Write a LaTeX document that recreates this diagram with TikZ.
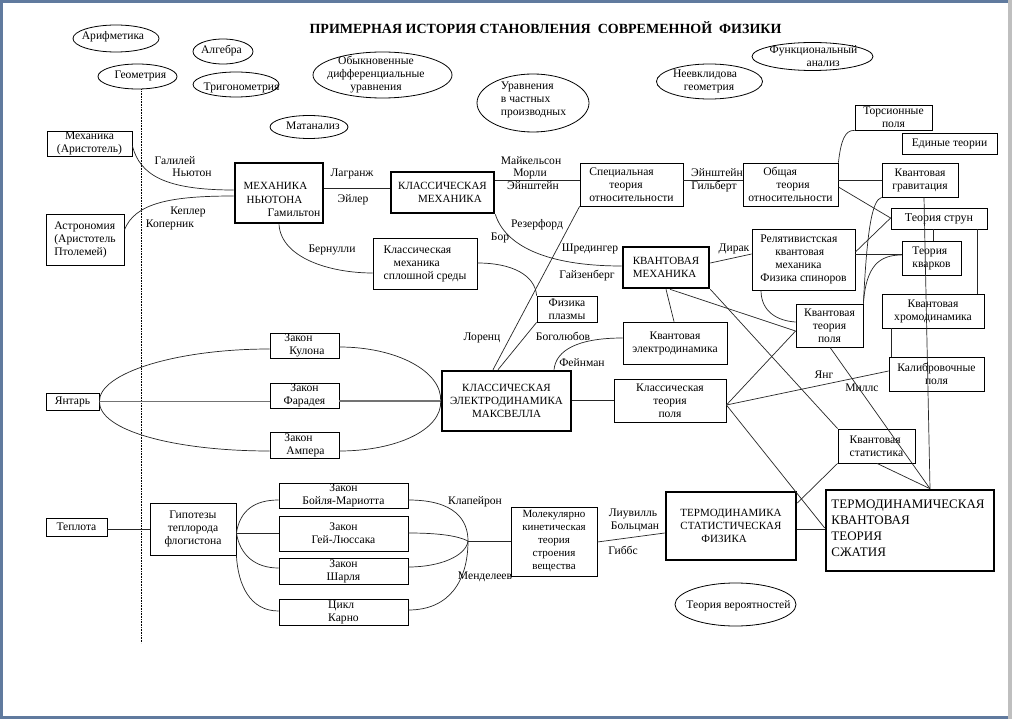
\documentclass[tikz,border=0pt]{standalone}
\usepackage{fontspec}
\setmainfont{Liberation Serif}
\usetikzlibrary{shapes.geometric}
\definecolor{framecol}{RGB}{96,122,158}
\newcommand\smf{\fontsize{11.6}{13}\selectfont}
\newcommand\mkf{\fontsize{11}{13}\selectfont}
\newcommand\bgf{\fontsize{11}{13.2}\selectfont}
\newcommand\tqf{\fontsize{13}{16}\selectfont}
\begin{document}
\begin{tikzpicture}[x=1pt,y=-1pt,
  box/.style={draw=black, line width=0.8pt, rectangle, inner sep=0.5pt, align=center, font=\smf},
  tbox/.style={box, line width=2.6pt, font=\bgf},
  ellsh/.style={draw=black, line width=0.8pt, ellipse, inner sep=0pt},
  txt/.style={inner sep=0pt, align=center, font=\smf},
  lbl/.style={inner sep=0pt, font=\smf, text height=8pt, text depth=2.5pt},
  con/.style={line width=0.7pt, draw=black!85},
  gcon/.style={line width=1.4pt, draw=black!55},
]
\useasboundingbox (0,0) rectangle (1012,719);
\fill[framecol] (0,0) rectangle (1012,719);
\fill[black!25] (1008,0) rectangle (1012,719);
\fill[white] (3,3) rectangle (1008,716);

% title
\node[inner sep=0pt, font=\bfseries\fontsize{14}{16}\selectfont] (title) at (545.5,28) {ПРИМЕРНАЯ ИСТОРИЯ СТАНОВЛЕНИЯ\ \ СОВРЕМЕННОЙ\ \ ФИЗИКИ};

% ellipses
\node[ellsh, minimum width=86, minimum height=27] (arif) at (116,38.5) {};
\node[txt] (arifT) at (113,37) {Арифметика};
\node[ellsh, minimum width=79, minimum height=25] (geom) at (137.5,76.5) {};
\node[txt] (geomT) at (140.5,75.5) {Геометрия};
\node[ellsh, minimum width=60, minimum height=25] (alg) at (223,51.5) {};
\node[txt] (algT) at (221.5,50.5) {Алгебра};
\node[ellsh, minimum width=86, minimum height=25] (trig) at (236,84.5) {};
\node[txt] (trigT) at (241.5,87.5) {Тригонометрия};
\node[ellsh, minimum width=78, minimum height=23] (matan) at (309,127) {};
\node[txt] (matanT) at (313,125.5) {Матанализ};
\node[ellsh, minimum width=139, minimum height=46] (ode) at (382.5,75) {};
\node[txt] (odeT) at (376,75) {Обыкновенные\\дифференциальные\\уравнения};
\node[ellsh, minimum width=112, minimum height=58] (pde) at (533,103) {};
\node[txt, align=left] (pdeT) at (533.5,100) {Уравнения\\в частных\\производных};
\node[ellsh, minimum width=106, minimum height=35] (neevkl) at (709.5,81.5) {};
\node[txt] (neevklT) at (705,81) {Неевклидова\\\hspace*{8pt}геометрия};
\node[ellsh, minimum width=121, minimum height=28] (func) at (812.5,56.5) {};
\node[txt, align=left] (funcT) at (813.5,56.5) {Функциональный\\\hspace*{37pt}анализ};
\node[ellsh, minimum width=121, minimum height=43] (prob) at (735.5,604.5) {};
\node[txt] (probT) at (738.5,605.5) {Теория вероятностей};

% dotted divider
\coordinate (dotend) at (141,643);
\draw[densely dotted, line width=0.6pt] (geom.south -| 141,0) -- (dotend);

% boxes
\node[box, minimum width=85, minimum height=25] (mekhA) at (89.5,143.5) {Механика\\(Аристотель)};
\node[box, align=left, minimum width=78, minimum height=51] (astr) at (85,239.5) {Астрономия\\(Аристотель\\Птолемей)};
\node[box, minimum width=53, minimum height=17] (yantar) at (72.5,401.5) {Янтарь};
\node[box, minimum width=61, minimum height=18] (teplota) at (76.5,527) {Теплота};
\node[tbox, minimum width=88, minimum height=60] (newton) at (279,193) {};
\node[inner sep=0pt, align=left, font=\bgf] (newtonT) at (282,199.5) {МЕХАНИКА\\\hspace*{3pt}НЬЮТОНА\\\hspace*{24pt}{\smf Гамильтон}};
\node[tbox, align=left, minimum width=103, minimum height=41] (klmekh) at (442.5,192.5) {КЛАССИЧЕСКАЯ\\\hspace*{20pt}МЕХАНИКА};
\node[box, align=left, minimum width=103, minimum height=43] (spets) at (631.5,184.5) {Специальная\\\hspace*{20pt}теория\\относительности};
\node[box, align=left, minimum width=95, minimum height=43] (obsh) at (790.5,184.5) {\hspace*{15pt}Общая\\\hspace*{28pt}теория\\относительности};
\node[box, minimum width=77, minimum height=25] (tors) at (893.5,117.5) {Торсионные\\поля};
\node[box, minimum width=95, minimum height=21] (edin) at (949.5,143.5) {Единые теории};
\node[box, minimum width=76, minimum height=34] (kgrav) at (920,180) {Квантовая\\гравитация};
\node[box, minimum width=96, minimum height=21, font=\fontsize{12}{14}\selectfont] (struny) at (939,218.5) {Теория струн};
\node[box, align=left, minimum width=59, minimum height=34] (kvarki) at (931.5,258) {Теория\\кварков};
\node[box, minimum width=102, minimum height=34] (khromo) at (933,311) {Квантовая\\хромодинамика};
\node[box, minimum width=95, minimum height=34] (kalib) at (936.5,374) {Калибровочные\\поля};
\node[box, align=left, minimum width=103, minimum height=61] (relat) at (803.5,259.5) {Релятивистская\\\hspace*{15pt}квантовая\\\hspace*{15pt}механика\\Физика спиноров};
\node[box, minimum width=67, minimum height=43] (ktp) at (829.5,325.5) {Квантовая\\теория\\поля};
\node[box, align=left, minimum width=77, minimum height=34] (kstat) at (876.5,446) {Квантовая\\статистика};
\node[tbox, align=left, minimum width=86, minimum height=41] (kvmekh) at (666,267.5) {КВАНТОВАЯ\\МЕХАНИКА};
\node[box, align=left, minimum width=104, minimum height=51] (ksplosh) at (425,263.5) {Классическая\\\hspace*{10pt}механика\\сплошной среды};
\node[box, align=left, minimum width=60, minimum height=26] (plazma) at (567,309) {Физика\\плазмы};
\node[box, minimum width=104, minimum height=42] (ked) at (675,343) {Квантовая\\электродинамика};
\node[box, minimum width=112, minimum height=43] (ktpolya) at (670,400.5) {Классическая\\теория\\поля};
\node[tbox, minimum width=129, minimum height=60] (maxwell) at (506.5,401) {КЛАССИЧЕСКАЯ\\ЭЛЕКТРОДИНАМИКА\\МАКСВЕЛЛА};
\node[box, align=left, minimum width=69, minimum height=25] (kulon) at (304.5,345.5) {Закон\\\hspace*{5pt}Кулона};
\node[box, minimum width=69, minimum height=25] (faradey) at (304.5,395.5) {Закон\\Фарадея};
\node[box, align=left, minimum width=69, minimum height=26] (amper) at (304.5,445) {Закон\\\hspace*{2pt}Ампера};
\node[box, minimum width=86, minimum height=52] (gipot) at (193,529) {Гипотезы\\теплорода\\флогистона};
\node[box, minimum width=129, minimum height=25] (boyle) at (343.5,495.5) {Закон\\Бойля-Мариотта};
\node[box, minimum width=129, minimum height=35] (gey) at (343.5,533.5) {Закон\\Гей-Люссака};
\node[box, minimum width=129, minimum height=26] (sharl) at (343.5,571) {Закон\\Шарля};
\node[box, align=left, minimum width=129, minimum height=26] (karno) at (343.5,612) {Цикл\\Карно};
\node[box, font=\mkf, minimum width=86, minimum height=69] (molek) at (554,541.5) {Молекулярно\\кинетическая\\теория\\строения\\вещества};
\node[tbox, align=left, minimum width=130, minimum height=68] (termo) at (731,526) {ТЕРМОДИНАМИКА\\СТАТИСТИЧЕСКАЯ\\\hspace*{21pt}ФИЗИКА};
\node[tbox, minimum width=168, minimum height=81] (tq) at (910,530.5) {};
\node[inner sep=0pt, align=left, font=\tqf] (tqT) at (908,528) {ТЕРМОДИНАМИЧЕСКАЯ\\КВАНТОВАЯ\\ТЕОРИЯ\\СЖАТИЯ};

% connectors: mechanics
\draw[con] (mekhA.east |- 0,146) .. controls (140,175) and (165,190) .. (newton.west |- 0,190);
\draw[con] (astr.east |- 0,230) .. controls (135,203) and (170,196) .. (newton.west |- 0,196);
\draw[con] (newton.east |- 0,188) -- (klmekh.west |- 0,188);
\draw[con] (newton.south -| 279,0) .. controls (281,258) and (330,273) .. (ksplosh.west |- 0,273);
\draw[con] (klmekh.east |- 0,180) -- (spets.west |- 0,180);
\draw[con] (spets.east |- 0,180) -- (obsh.west |- 0,180);
\draw[con] (klmekh.south east) .. controls (505,245) and (545,266) .. (kvmekh.west |- 0,266);
\draw[con] (spets.south west) -- (maxwell.north -| 493,0);
\draw[con] (plazma.south west) -- (maxwell.north -| 498,0);
\draw[con] (ksplosh.east |- 0,263) .. controls (512,263) and (535,275) .. (plazma.north west);
\draw[con] (ked.west |- 0,338) .. controls (578,338) and (556,350) .. (maxwell.north -| 554,0);
\draw[con] (kvmekh.south -| 666,0) -- (ked.north -| 674,0);
\draw[con] (kvmekh.east |- 0,263) -- (relat.west |- 0,254);
\draw[con] (kvmekh.south -| 670,0) -- (ktp.west |- 0,331);
\draw[con] (kvmekh.south east) -- (kstat.north west);
\draw[con] (relat.south -| 761,0) .. controls (761,312) and (778,321) .. (ktp.west |- 0,322);
\draw[con] (ktpolya.east |- 0,405) -- (ktp.west |- 0,331);
\draw[con] (ktpolya.east |- 0,405) -- (kalib.west |- 0,371);
\draw[con] (ktpolya.east |- 0,405) -- (tq.west |- 0,528);
\draw[con] (termo.east |- 0,529) -- (tq.west |- 0,529);
\draw[con] (termo.east |- 0,503) -- (kstat.south west);
\draw[con] (kstat.south -| 877,0) -- (tq.north -| 930,0);
\draw[con] (ktp.south -| 830,0) -- (tq.north -| 930,0);
\draw[con] (kgrav.south -| 924,0) -- (tq.north -| 930,0);
\draw[con] (obsh.east |- 0,180) -- (kgrav.west |- 0,180);
\draw[con] (obsh.east |- 0,187) -- (struny.west |- 0,218);
\draw[con] (obsh.north east) .. controls (841,140) and (845,130) .. (tors.south west);
\draw[con] (relat.east |- 0,252) -- (struny.west |- 0,218);
\draw[con] (relat.east |- 0,254) -- (kvarki.west |- 0,254);
\draw[con] (ktp.north east) .. controls (867,230) and (872,200) .. (kgrav.south west);
\draw[con] (ktp.north east) .. controls (866,265) and (880,255) .. (kvarki.west |- 0,255);
\draw[con] (struny.south -| 933,0) -- (kvarki.north -| 933,0);
\draw[con] (struny.south -| 977,0) -- (khromo.north -| 977,0);
\draw[con] (khromo.south -| 891,0) -- (kalib.north -| 891,0);

% electricity
\draw[con] (yantar.east) .. controls (99,373) and (176,349) .. (kulon.west |- 0,349);
\draw[gcon] (yantar.east) -- (faradey.west |- yantar.east);
\draw[con] (yantar.east) .. controls (99,431) and (176,451) .. (amper.west |- 0,451);
\draw[con] (kulon.east |- 0,347) .. controls (396,347) and (442,371) .. (maxwell.west |- 0,401);
\draw[gcon] (faradey.east |- 0,401) -- (maxwell.west |- 0,401);
\draw[con] (amper.east |- 0,451) .. controls (396,451) and (442,430) .. (maxwell.west |- 0,401);
\draw[con] (maxwell.east |- 0,400) -- (ktpolya.west |- 0,400);

% heat
\draw[con] (teplota.east |- 0,529) -- (gipot.west |- 0,529);
\draw[con] (gipot.east |- 0,533) -- (gey.west |- 0,533);
\draw[con] (gipot.east |- 0,533) .. controls (240,510) and (255,500) .. (boyle.west |- 0,500);
\draw[con] (gipot.east |- 0,533) .. controls (240,555) and (255,568) .. (sharl.west |- 0,568);
\draw[con] (gipot.south east) .. controls (238,585) and (250,611) .. (karno.west |- 0,611);
\coordinate (mkt) at (468,541);
\draw[con] (boyle.east |- 0,500) .. controls (455,500) and (468,520) .. (mkt);
\draw[con] (gey.east |- 0,533) .. controls (440,533) and (458,536) .. (mkt);
\draw[con] (sharl.east |- 0,567) .. controls (440,567) and (466,556) .. (mkt);
\draw[con] (karno.east |- 0,610) .. controls (450,610) and (468,580) .. (mkt);
\draw[con] (mkt) -- (molek.west |- mkt);
\draw[con] (molek.east |- 0,542) -- (termo.west |- 0,533);

% connector labels
\node[lbl] (l1) at (175,162) {Галилей};
\node[lbl] (l2) at (192,174) {Ньютон};
\node[lbl] (l3) at (188,212) {Кеплер};
\node[lbl] (l4) at (170,225) {Коперник};
\node[lbl] (l5) at (352,174) {Лагранж};
\node[lbl] (l6) at (353,200) {Эйлер};
\node[lbl] (l7) at (332,250) {Бернулли};
\node[lbl] (l8) at (531,162) {Майкельсон};
\node[lbl] (l9) at (530,174) {Морли};
\node[lbl] (l10) at (533,187) {Эйнштейн};
\node[lbl] (l11) at (717,174) {Эйнштейн};
\node[lbl] (l12) at (714,187) {Гильберт};
\node[lbl] (l13) at (537,225) {Резерфорд};
\node[lbl] (l14) at (500,238) {Бор};
\node[lbl] (l15) at (590,249) {Шредингер};
\node[lbl] (l16) at (587,276) {Гайзенберг};
\node[lbl] (l17) at (734,249) {Дирак};
\node[lbl] (l18) at (482,338) {Лоренц};
\node[lbl] (l19) at (563,338) {Боголюбов};
\node[lbl] (l20) at (582,364) {Фейнман};
\node[lbl] (l21) at (824,376) {Янг};
\node[lbl] (l22) at (862,389) {Миллс};
\node[lbl] (l23) at (475,502) {Клапейрон};
\node[lbl] (l24) at (485,577) {Менделеев};
\node[lbl] (l25) at (633,514) {Лиувилль};
\node[lbl] (l26) at (635,527) {Больцман};
\node[lbl] (l27) at (623,552) {Гиббс};
\end{tikzpicture}
\end{document}
